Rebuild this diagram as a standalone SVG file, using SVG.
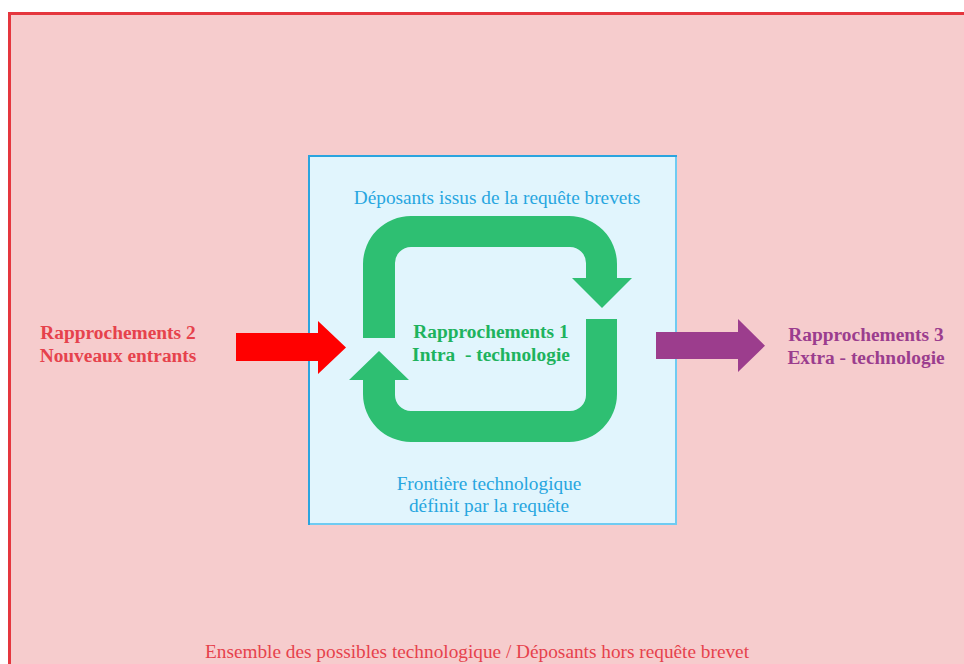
<svg xmlns="http://www.w3.org/2000/svg" width="964" height="664" viewBox="0 0 964 664">
  <style>
    .lbl { font-size: 19.3px; }
    .bold { font-size: 19.4px; font-weight: bold; }
    .blue { fill: #27a6e0; }
    .red { fill: #e6424c; }
    .green { fill: #1eb35e; }
    .purple { fill: #9b3d8e; }
  </style>
  <rect width="964" height="664" fill="#ffffff"/>
  <g font-family="Liberation Serif, Times New Roman, DejaVu Serif, serif" text-anchor="middle">
  <g id="ensemble">
    <rect x="9.5" y="13.5" width="1000" height="700" fill="#f6cccd" stroke="#e5363e" stroke-width="3"/>
    <text class="lbl red" x="477" y="658">Ensemble des possibles technologique / Déposants hors requête brevet</text>
  </g>
  <g id="frontiere">
    <rect x="309" y="156" width="367" height="368" fill="#e1f5fd" stroke="#2ba4de" stroke-width="2"/>
    <path d="M676 157 V524 H310" fill="none" stroke="#6fcbf2" stroke-width="2"/>
    <text class="lbl blue" x="497" y="204">Déposants issus de la requête brevets</text>
    <text class="lbl blue" x="489" y="490">Frontière technologique</text>
    <text class="lbl blue" x="489" y="512">définit par la requête</text>
  </g>
  <g id="rapprochements1">
    <path fill="#2ebf72" d="M363 338 H395 V263 A16 16 0 0 1 411 247 H570 A16 16 0 0 1 586 263 V278 H572 L602 308 L632 278 H617 V264 A48 48 0 0 0 569 216 H411 A48 48 0 0 0 363 264 Z"/>
    <path fill="#2ebf72" d="M586 319 H617 V394 A48 48 0 0 1 569 442 H411 A48 48 0 0 1 363 394 V380 H349 L379 351 L409 380 H395 V395 A16 16 0 0 0 411 411 H570 A16 16 0 0 0 586 395 Z"/>
    <text class="bold green" x="491" y="338">Rapprochements 1</text>
    <text class="bold green" x="491" y="361" xml:space="preserve">Intra  - technologie</text>
  </g>
  <g id="rapprochements2">
    <text class="bold red" x="118" y="339">Rapprochements 2</text>
    <text class="bold red" x="118" y="362">Nouveaux entrants</text>
  </g>
  <g id="rapprochements3">
    <text class="bold purple" x="866" y="341">Rapprochements 3</text>
    <text class="bold purple" x="866" y="364">Extra - technologie</text>
  </g>
  <g id="connectors">
    <path fill="#ff0000" d="M236 333 H318 V321 L346 347.5 L318 374 V361 H236 Z"/>
    <path fill="#9c3d8d" d="M656 332 H738 V319 L765 345.7 L738 372 V359 H656 Z"/>
  </g>
  </g>
</svg>
